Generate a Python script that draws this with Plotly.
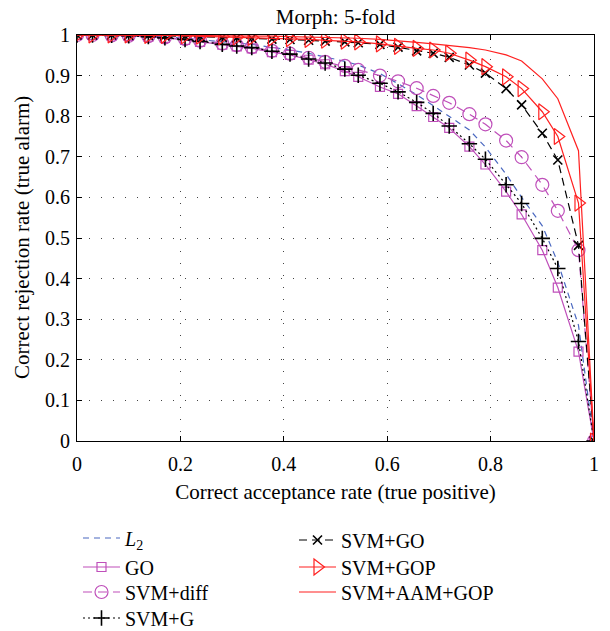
import plotly.graph_objects as go

# Shared operating points (correct acceptance rate)
far = [0, 0.03, 0.067, 0.1, 0.138, 0.17, 0.209, 0.238, 0.281, 0.309, 0.338, 0.377,
       0.412, 0.448, 0.48, 0.518, 0.544, 0.586, 0.621, 0.657, 0.689, 0.72, 0.759,
       0.79, 0.83, 0.86, 0.90, 0.93, 0.97, 1.0]

l2 = [1, 1, 0.999, 0.998, 0.997, 0.995, 0.992, 0.988, 0.983, 0.980, 0.977, 0.970,
      0.963, 0.955, 0.946, 0.935, 0.926, 0.905, 0.880, 0.853, 0.826, 0.800, 0.766,
      0.724, 0.657, 0.600, 0.530, 0.440, 0.285, 0.0]
go_ = [1, 1, 0.999, 0.998, 0.996, 0.993, 0.988, 0.983, 0.976, 0.972, 0.967, 0.958,
       0.951, 0.939, 0.928, 0.911, 0.897, 0.872, 0.855, 0.825, 0.798, 0.771, 0.725,
       0.681, 0.614, 0.558, 0.470, 0.378, 0.220, 0.0]
svm_diff = [1, 1, 0.999, 0.998, 0.997, 0.994, 0.990, 0.986, 0.979, 0.975, 0.970, 0.961,
            0.954, 0.944, 0.934, 0.924, 0.914, 0.900, 0.886, 0.869, 0.850, 0.833, 0.805,
            0.780, 0.740, 0.699, 0.631, 0.567, 0.470, 0.0]
svm_g = [1, 1, 0.999, 0.998, 0.996, 0.993, 0.989, 0.984, 0.977, 0.973, 0.969, 0.960,
         0.953, 0.941, 0.931, 0.916, 0.901, 0.881, 0.860, 0.834, 0.807, 0.776, 0.732,
         0.694, 0.631, 0.585, 0.499, 0.425, 0.245, 0.0]
svm_go = [1, 1, 1, 0.999, 0.999, 0.998, 0.997, 0.996, 0.994, 0.993, 0.992, 0.990,
          0.989, 0.987, 0.985, 0.983, 0.981, 0.977, 0.970, 0.961, 0.955, 0.945, 0.926,
          0.906, 0.868, 0.828, 0.758, 0.692, 0.482, 0.0]
svm_gop = [1, 1, 1, 1, 0.999, 0.999, 0.998, 0.997, 0.996, 0.995, 0.994, 0.992,
           0.991, 0.989, 0.987, 0.985, 0.983, 0.978, 0.972, 0.967, 0.963, 0.955, 0.938,
           0.922, 0.897, 0.868, 0.811, 0.750, 0.586, 0.0]
svm_aam_gop = [1, 1, 1, 1, 1, 1, 0.999, 0.999, 0.998, 0.998, 0.997, 0.997,
               0.996, 0.995, 0.994, 0.993, 0.992, 0.989, 0.986, 0.982, 0.978, 0.974, 0.969,
               0.963, 0.951, 0.936, 0.892, 0.843, 0.715, 0.0]

x_ticks = [0, 0.2, 0.4, 0.6, 0.8, 1]
y_ticks = [0, 0.1, 0.2, 0.3, 0.4, 0.5, 0.6, 0.7, 0.8, 0.9, 1]

FONT = "Liberation Serif"
MAG = "#BF4FBA"
BLUE = "#4A68C0"
RED = "#FF2020"
W, H = 610, 631
ML, MR, MT, MB = 77, 16, 35, 190

fig = go.Figure()

# legend slots: (box left px, row centre px)
slots = {
    "legend": (78, 538), "legend2": (78, 567), "legend3": (78, 592), "legend4": (78, 618),
    "legend5": (294, 540), "legend6": (294, 567), "legend7": (294, 592),
}

def add(y, name, color, dash, legend, symbol=None, msize=10, mlw=1.2):
    kw = dict(x=far, y=y, name=name, legend=legend,
              line=dict(color=color, width=1.2, dash=dash))
    if symbol:
        kw["mode"] = "lines+markers"
        kw["marker"] = dict(symbol=symbol, size=msize, color=color,
                            line=dict(color=color, width=mlw))
    else:
        kw["mode"] = "lines"
    fig.add_trace(go.Scatter(**kw))

add(l2, "<i>L</i><sub>2</sub>", BLUE, "6px,5px", "legend")
add(go_, "GO", MAG, "solid", "legend2", "square-open", 9)
add(svm_diff, "SVM+diff", MAG, "9px,6px", "legend3", "circle-open", 13)
add(svm_g, "SVM+G", "black", "2px,3px", "legend4", "cross-thin", 11, mlw=1.6)
add(svm_go, "SVM+GO", "black", "8px,5px", "legend5", "x-thin", 9, mlw=1.6)
add(svm_gop, "SVM+GOP", RED, "solid", "legend6", "triangle-right-open", 14)
add(svm_aam_gop, "SVM+AAM+GOP", RED, "solid", "legend7")

axis_common = dict(
    showline=True, linecolor="black", linewidth=1.2, mirror="ticks",
    ticks="inside", ticklen=5, tickcolor="black", tickwidth=1,
    showgrid=True, gridcolor="#444444", gridwidth=1, griddash="1px,11px",
    zeroline=False, tickfont=dict(family=FONT, size=20, color="black"),
)

fig.update_xaxes(range=[0, 1], tickvals=x_ticks, ticktext=[f"{v:g}" for v in x_ticks],
                 title=dict(text="Correct acceptance rate (true positive)",
                            font=dict(family=FONT, size=21, color="black"), standoff=10),
                 ticklabelstandoff=5, **axis_common)
fig.update_yaxes(range=[0, 1], tickvals=y_ticks, ticktext=[f"{v:g}" for v in y_ticks],
                 ticklabelstandoff=2, **axis_common)

plot_w = W - ML - MR
fig.add_annotation(
    text="Correct rejection rate (true alarm)", textangle=-90,
    xref="paper", yref="paper", x=(22 - ML) / plot_w, y=0.5,
    xanchor="center", yanchor="middle", showarrow=False,
    font=dict(family=FONT, size=21, color="black"),
)

legends = {}
for key, (lx, ly) in slots.items():
    legends[key] = dict(
        bgcolor="rgba(0,0,0,0)", font=dict(family=FONT, size=20, color="black"),
        xref="container", yref="container",
        x=lx / W, y=1 - ly / H, xanchor="left", yanchor="middle",
        orientation="v", itemwidth=37,
    )

fig.update_layout(
    width=W, height=H,
    margin=dict(l=ML, r=MR, t=MT, b=MB, autoexpand=False),
    paper_bgcolor="white", plot_bgcolor="white",
    title=dict(text="Morph: 5-fold", font=dict(family=FONT, size=21, color="black"),
               x=0.55, xanchor="center", y=1 - 17 / H, yanchor="middle"),
    showlegend=True,
    **legends,
)

fig.write_html("out.html")
